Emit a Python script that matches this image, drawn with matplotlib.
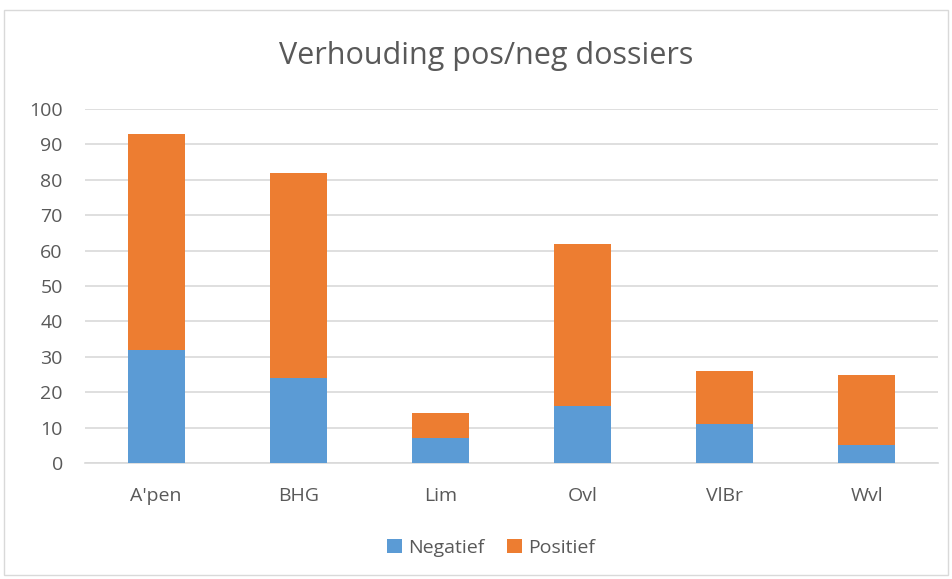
import numpy as np
import matplotlib
matplotlib.use("Agg")
import matplotlib.pyplot as plt
from matplotlib.patches import Rectangle

# data
categories = ["A'pen", "BHG", "Lim", "Ovl", "VlBr", "Wvl"]
negatief = [32, 24, 7, 16, 11, 5]
positief = [61, 58, 7, 46, 15, 20]

blue = '#5B9BD5'
orange = '#ED7D31'
txt = '#595959'

plt.rcParams['font.family'] = ['Open Sans', 'DejaVu Sans']

fig = plt.figure(figsize=(9.53, 5.79), dpi=100)
ax = fig.add_axes([85/953, 1-463/579, 853/953, 354/579])

x = np.arange(len(categories))
ax.bar(x, negatief, width=0.4, color=blue, label='Negatief', zorder=3)
ax.bar(x, positief, width=0.4, bottom=negatief, color=orange, label='Positief', zorder=3)

ax.set_xlim(-0.5, len(categories) - 0.5)
ax.set_ylim(0, 100)
ax.set_yticks(range(0, 101, 10))
ax.set_xticks(x)
ax.set_xticklabels(categories)
ax.tick_params(axis='both', length=0, labelsize=14, colors=txt)
ax.tick_params(axis='x', pad=17)
ax.tick_params(axis='y', pad=16)
ax.grid(axis='y', color='#D9D9D9', linewidth=1.2, zorder=0)
for s in ['top', 'right', 'left']:
    ax.spines[s].set_visible(False)
ax.spines['bottom'].set_color('#D9D9D9')
ax.spines['bottom'].set_linewidth(1.2)

fig.text(486/953, 1-56/579, 'Verhouding pos/neg dossiers', ha='center', va='center',
         fontsize=22, color=txt)

fig.legend(loc='center', bbox_to_anchor=(491/953, 1-548/579), ncol=2, frameon=False,
           fontsize=14, labelcolor=txt, handlelength=0.75, handleheight=0.75,
           handletextpad=0.3, columnspacing=1.2)

# outer chart border
fig.patches.append(Rectangle((4/953, 4/579), 944/953, 565/579, transform=fig.transFigure,
                             fill=False, edgecolor='#D9D9D9', linewidth=1))

plt.savefig('out.png', dpi=100)
